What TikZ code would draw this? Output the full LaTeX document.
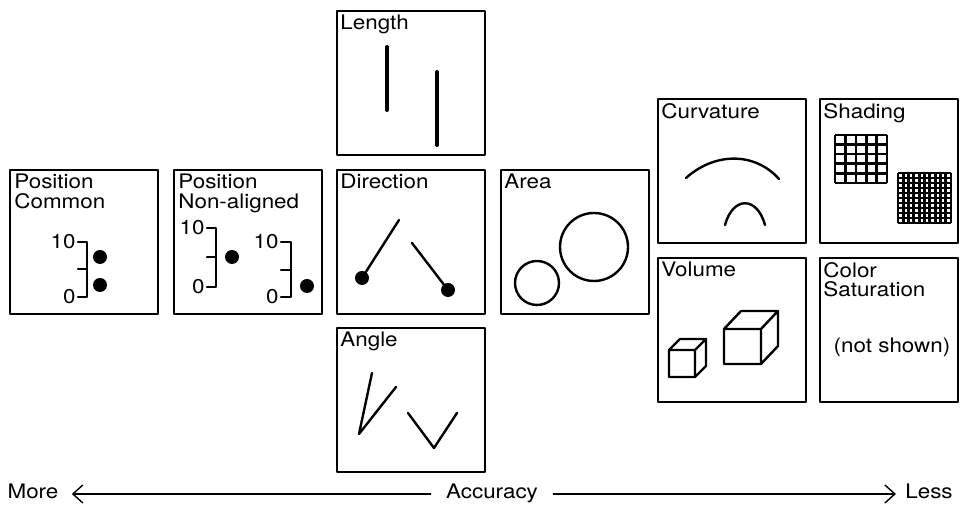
\documentclass[tikz,border=0pt]{standalone}
\usepackage{fontspec}
\setmainfont{TeX Gyre Heros}[FakeStretch=1.12]
\usetikzlibrary{arrows.meta,calc}

\begin{document}
\begin{tikzpicture}[x=0.5pt,y=-0.5pt,font=\fontsize{10}{9.7}\selectfont,
      >={Straight Barb[length=5pt,width=9pt]},line cap=round,line join=round,
      panel/.style={draw,line width=1pt,inner sep=0pt,minimum width=74pt,minimum height=72pt},
      npanel/.style={panel,minimum width=69pt},
      ttl/.style={anchor=north west,align=left,inner sep=0pt},
      tick/.style={anchor=east,inner sep=1pt},
      axl/.style={inner sep=0pt,text height=7pt,text depth=2pt},
      stroke/.style={line width=1.2pt},
      dot/.style={fill=black}]
    \useasboundingbox (0,0) rectangle (960,506);
    % panels
    \node[panel] (poscom) at (84,242) {};
    \node[panel] (posnon) at (248,242) {};
    \node[panel] (length) at (411,83) {};
    \node[panel] (direction) at (411,242) {};
    \node[panel] (area) at (575,242) {};
    \node[panel] (angle) at (411,400) {};
    \node[panel] (curvature) at (732,171) {};
    \node[npanel] (shading) at (889,171) {};
    \node[panel] (volume) at (732,330) {};
    \node[npanel] (colorsat) at (889,330) {};
    % panel titles
    \node[ttl] (poscom-t) at ([xshift=2.5pt,yshift=-2.5pt]poscom.north west) {Position\\Common};
    \node[ttl] (posnon-t) at ([xshift=2.5pt,yshift=-2.5pt]posnon.north west) {Position\\Non-aligned};
    \node[ttl] (length-t) at ([xshift=2pt,yshift=-2.5pt]length.north west) {Length};
    \node[ttl] (direction-t) at ([xshift=2pt,yshift=-2.5pt]direction.north west) {Direction};
    \node[ttl] (area-t) at ([xshift=2pt,yshift=-2.5pt]area.north west) {Area};
    \node[ttl] (angle-t) at ([xshift=2pt,yshift=-2.5pt]angle.north west) {Angle};
    \node[ttl] (curvature-t) at ([xshift=2pt,yshift=-2.5pt]curvature.north west) {Curvature};
    \node[ttl] (shading-t) at ([xshift=2pt,yshift=-2.5pt]shading.north west) {Shading};
    \node[ttl] (volume-t) at ([xshift=2pt,yshift=-2.5pt]volume.north west) {Volume};
    \node[ttl] (colorsat-t) at ([xshift=2pt,yshift=-2.5pt]colorsat.north west) {Color\\Saturation};
    \node (notshown) at (892,347) {(not shown)};
    % position, common scale
    \node[tick] (pc10) at (78,242) {10};
    \node[tick] (pc0) at (78,297) {0};
    \draw[stroke] (78,242) -- (87,242) -- (87,297) -- (78,297) (78,269) -- (87,269);
    \fill[dot] (100,257) circle (7) (100,285) circle (7);
    % position, non-aligned scales
    \node[tick] (pn10) at (207,228) {10};
    \node[tick] (pn0) at (207,287) {0};
    \draw[stroke] (207,228) -- (216,228) -- (216,287) -- (207,287) (207,257) -- (216,257);
    \fill[dot] (232,257) circle (7);
    \node[tick] (pm10) at (281,242) {10};
    \node[tick] (pm0) at (281,297) {0};
    \draw[stroke] (281,242) -- (291,242) -- (291,297) -- (281,297) (281,270) -- (291,270);
    \fill[dot] (307,286) circle (7);
    % length
    \draw[line width=2pt] (387,47) -- (387,110) (437,72) -- (437,145);
    % direction
    \draw[stroke] (399,220) -- (362,278) (412,243) -- (448,290);
    \fill[dot] (362,278) circle (7) (448,290) circle (7);
    % area
    \draw[stroke] (594,247) circle (34) (537,283) circle (22);
    % angle
    \draw[stroke] (372,373) -- (359,434) -- (396,387);
    \draw[stroke] (408,413) -- (434,448) -- (457,413);
    % curvature
    \draw[stroke] (686,178) .. controls (715,152) and (755,152) .. (779,179);
    \draw[stroke] (725,225) .. controls (733,196) and (757,196) .. (765,225);
    % shading grids
    \foreach \i in {0,...,5}
      \draw[line width=1.3pt,line cap=butt] (835+\i*10.4,135) -- (835+\i*10.4,183) (835,135+\i*9.6) -- (887,135+\i*9.6);
    \foreach \i in {0,...,10}
      \draw[line width=1.45pt,line cap=butt] (898+\i*5.3,173) -- (898+\i*5.3,223) (898,173+\i*5) -- (951,173+\i*5);
    % volume
    \draw[stroke] (669,350) rectangle (695,377) (669,350) -- (680,339) -- (706,339) -- (695,350)
      (695,377) -- (706,366) -- (706,339);
    \draw[stroke] (724,329) rectangle (761,364) (724,329) -- (741,311) -- (778,311) -- (761,329)
      (761,364) -- (778,346) -- (778,311);
    % accuracy axis
    \node[axl] (more) at (33,494) {More};
    \node[axl] (acc) at (492,494) {Accuracy};
    \node[axl] (less) at (929,494) {Less};
    \draw[->,line width=0.7pt,shorten <=7.5pt,shorten >=6.5pt] (acc) -- (more);
    \draw[->,line width=0.7pt,shorten <=7.5pt,shorten >=4.5pt] (acc) -- (less);
  \end{tikzpicture}
\end{document}
